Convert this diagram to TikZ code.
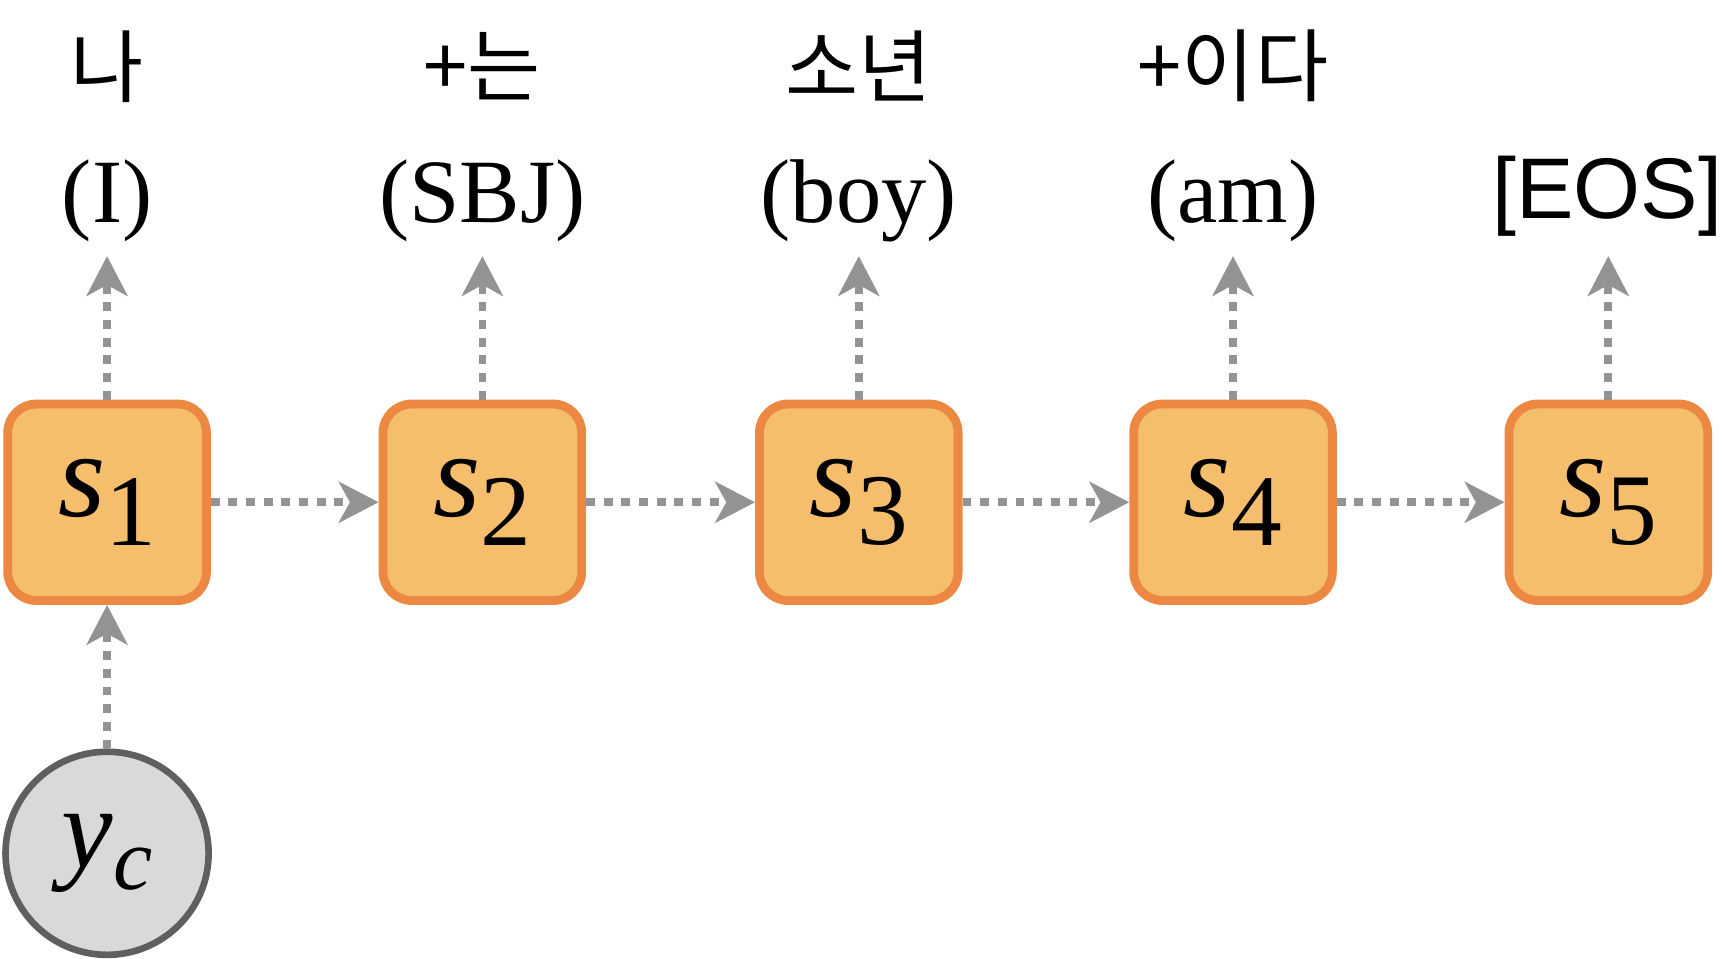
\documentclass[tikz,border=0pt]{standalone}
\usepackage{fontspec}
\setmainfont{Liberation Serif}
\newfontfamily\kr{Noto Sans CJK KR}
\newfontfamily\arialf{Liberation Sans}
\usetikzlibrary{arrows.meta}
\definecolor{boxfill}{HTML}{F4BE6C}
\definecolor{boxline}{HTML}{EC8841}
\definecolor{arr}{HTML}{939393}
\definecolor{cfill}{HTML}{D9D9D9}
\definecolor{cline}{HTML}{5F5F5F}
\newcommand{\sv}[1]{\fontsize{110}{110}\selectfont\textit{s}\raisebox{-26pt}{\fontsize{92}{92}\selectfont #1}}
\begin{document}
\begin{tikzpicture}[x=1pt,y=-1pt,
  stbox/.style={draw=boxline,fill=boxfill,line width=8pt,rounded corners=26pt,minimum width=180pt,minimum height=178pt,inner sep=0pt},
  conn/.style={draw=arr,line width=7pt,dash pattern=on 8pt off 8pt,-{Stealth[length=36pt,width=37pt,inset=10pt,fill=arr]}},
  kor/.style={font=\kr\fontsize{72}{72}\selectfont,inner sep=0pt},
  eng/.style={font=\fontsize{82}{82}\selectfont,inner sep=0pt}]
\useasboundingbox (0,0) rectangle (1560,868);
\foreach \i/\x/\k/\e in {1/97/나/(I),2/437/+는/(SBJ),3/778/소년/(boy),4/1117/+이다/(am)}{
  \node[stbox] (s\i) at (\x,455) {\sv{\i}};
  \node[kor] (k\i) at (\x,60) {\k};
  \node[eng] (e\i) at (\x,182) {\e};
  \draw[conn] (s\i.north) -- (\x,232);
}
\node[stbox] (s5) at (1457,455) {\sv{5}};
\node[font=\arialf\fontsize{78}{78}\selectfont,inner sep=0pt] (e5) at (1456,178) {[EOS]};
\draw[conn] (s5.north) -- (1457,232);
\foreach \a/\b in {1/2,2/3,3/4,4/5}{\draw[conn] (s\a.east) -- (s\b.west);}
\node[circle,draw=cline,fill=cfill,line width=6pt,minimum size=184pt,inner sep=0pt] (yc) at (97,773)
  {\fontsize{105}{105}\selectfont\textit{y}\raisebox{-20pt}{\fontsize{80}{80}\selectfont\textit{c}}};
\draw[conn] (yc.north) -- (s1.south);
\end{tikzpicture}
\end{document}
